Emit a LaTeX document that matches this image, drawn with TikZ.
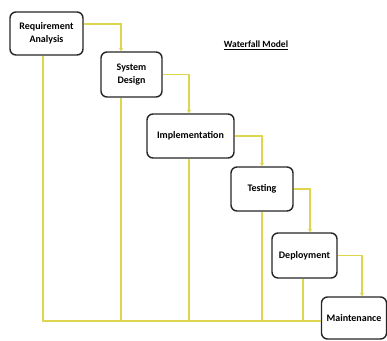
\documentclass[tikz,border=0pt]{standalone}
\usepackage{fontspec}
\setmainfont{Carlito}
\usetikzlibrary{arrows.meta}
\definecolor{flowyellow}{RGB}{222,214,78}

\begin{document}
\begin{tikzpicture}[x=1pt, y=-1pt,
    phase/.style={draw=black!85, line width=1.4pt, rounded corners=6pt, fill=white,
        align=center, font=\bfseries\fontsize{10}{12.5}\selectfont, inner sep=0pt},
    flow/.style={flowyellow, line width=1.4pt, -{Triangle[width=4pt,length=3.5pt]}},
    feed/.style={flowyellow, line width=1.4pt}]
    \useasboundingbox (0,0) rectangle (387,340);

    % Title
    \node[font=\bfseries\fontsize{9.5}{11}\selectfont] (title) at (256,45) {\underline{Waterfall Model}};

    % Phases
    \node[phase, minimum width=73pt, minimum height=43pt] (ra) at (46.5,33.5) {Requirement\\Analysis};
    \node[phase, minimum width=61pt, minimum height=45pt] (sd) at (131.5,74.5) {System\\Design};
    \node[phase, minimum width=87pt, minimum height=44pt] (im) at (190.5,136) {Implementation};
    \node[phase, minimum width=62pt, minimum height=44pt] (te) at (262,189) {Testing};
    \node[phase, minimum width=65pt, minimum height=45pt] (de) at (304.5,255.5) {Deployment};
    \node[phase, minimum width=65pt, minimum height=42pt] (mt) at (354,318) {Maintenance};

    % Feedback lines down to the base line
    \draw[feed] ([xshift=-3.5pt]ra.south) |- ([yshift=-3pt]mt.west);
    \draw[feed] ([xshift=-10.5pt]sd.south) |- ([yshift=-3pt]mt.west);
    \draw[feed] ([xshift=-1.5pt]im.south) |- ([yshift=-3pt]mt.west);
    \draw[feed] (te.south) |- ([yshift=-3pt]mt.west);
    \draw[feed] ([xshift=-1.5pt]de.south) |- ([yshift=-3pt]mt.west);

    % Cascade arrows
    \draw[flow] ([yshift=9.5pt]ra.east) -| ([xshift=-10.5pt]sd.north);
    \draw[flow] (sd.east) -| ([xshift=-1.5pt]im.north);
    \draw[flow] (im.east) -| (te.north);
    \draw[flow] (te.east) -| ([xshift=5.5pt]de.north);
    \draw[flow] (de.east) -| ([xshift=8pt]mt.north);
\end{tikzpicture}
\end{document}
